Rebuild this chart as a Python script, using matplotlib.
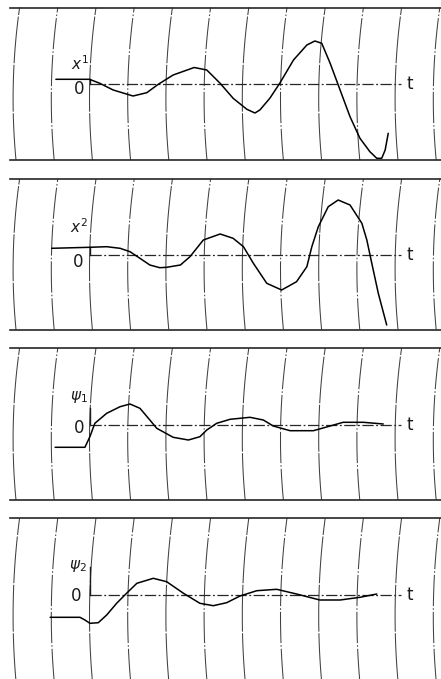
import numpy as np
import matplotlib.pyplot as plt

# time in chart divisions (t = 0 at the origin), deflection in chart units
x1_t = [-0.88, 0.0, 0.27, 0.62, 1.14, 1.50, 1.80, 2.19, 2.74, 3.07, 3.42, 3.76, 4.12, 4.33, 4.46,
        4.72, 4.98, 5.34, 5.69, 5.90, 6.08, 6.30, 6.56, 6.82, 7.08, 7.34, 7.52, 7.65, 7.74, 7.82]
x1_v = [4.7, 4.7, 0.7, -6, -12, -8.7, -0.3, 9, 16.5, 14, 0.7, -14.3, -25.3, -29, -26,
        -14.3, 0.7, 24, 39, 43, 40.7, 20.7, -6, -32.7, -54.3, -67.7, -74.3, -74.3, -66, -49.3]

x2_t = [-0.99, 0.0, 0.45, 0.80, 1.06, 1.32, 1.58, 1.84, 2.02, 2.38, 2.63, 2.98, 3.42, 3.76, 4.03,
        4.29, 4.64, 5.03, 5.42, 5.69, 5.82, 5.99, 6.25, 6.51, 6.82, 7.13, 7.26, 7.39, 7.56, 7.78]
x2_v = [6.2, 7.2, 7.8, 6.2, 2.8, -3.8, -10.5, -13.2, -12.8, -10.5, -2.2, 14.5, 20.5, 16.2, 7.8,
        -8.8, -28.8, -35.5, -27.2, -12.2, 7.8, 27.8, 47.8, 54.5, 49.5, 31.2, 14.5, -8.8, -38.8, -70.5]

psi1_t = [-0.90, -0.12, 0.01, 0.14, 0.45, 0.80, 1.06, 1.32, 1.58, 1.76, 2.19, 2.59, 2.89,
          3.07, 3.33, 3.68, 4.20, 4.55, 4.81, 5.25, 5.86, 6.30, 6.64, 7.17, 7.69]
psi1_v = [-22.3, -22.3, -11.7, 1.7, 11.7, 18.3, 21, 16.7, 5, -3.3, -12.3, -15, -11.7,
          -5, 1.7, 5.7, 7.7, 5, -1, -5.7, -5.7, -1, 2.7, 2.7, 1]

psi2_t = [-1.03, -0.25, -0.12, 0.01, 0.23, 0.45, 0.71, 0.97, 1.24, 1.67, 2.02, 2.46,
          2.89, 3.24, 3.59, 3.94, 4.38, 4.90, 5.42, 6.03, 6.56, 7.08, 7.52]
psi2_v = [-22.8, -22.8, -25.5, -28.8, -28.2, -20.5, -8.8, 1.2, 11.2, 16.2, 12.8, 1.2,
          -8.8, -11.2, -8.2, -1.5, 3.8, 5.2, 0.5, -5.5, -5.5, -2.8, 0.5]

labels = [r'$x^1$', r'$x^2$', r'$\psi_1$', r'$\psi_2$']
zeros = ['0', '0', '0', '0']
grid_t = list(range(-2, 10))

traces = [(x1_t, x1_v), (x2_t, x2_v), (psi1_t, psi1_v), (psi2_t, psi2_v)]

W, H = 441, 679
PX = 38.2      # pixels per time division
X0 = 89.5      # pixel column of t = 0

# panel layout in pixels: top border, bottom border, zero line
panels = [(7.5, 160, 84), (179, 329.5, 254.5), (348, 500, 425), (518, 681, 594.5)]
yaxis_top = [4.7, 7.5, 17, 28]
label_pos = [(-0.25, 20.7), (-0.29, 27.8), (-0.27, 28.3), (-0.31, 28.5)]
zero_pos = [(-0.27, -5), (-0.30, -7.2), (-0.27, -3.3), (-0.34, -1.5)]

fig = plt.figure(figsize=(W / 100, H / 100), dpi=100)
tl, tr = -X0 / PX, (W - X0) / PX

for i, (top, bot, zl) in enumerate(panels):
    ax = fig.add_axes([0, 1 - bot / H, 1, (bot - top) / H])
    ylo, yhi = zl - bot, zl - top
    ax.set_xlim(tl, tr)
    ax.set_ylim(ylo, yhi)
    ax.axis('off')

    # curved chart-paper lines
    a = np.linspace(ylo, yhi, 80)
    hgt = yhi - ylo
    yv = yhi - 0.6 * hgt
    off = 6.5 / (0.6 * hgt) ** 2 * (a - yv) ** 2 / PX
    for k in grid_t:
        ls = (0, (30, 2, 1.5, 2)) if k % 2 else (0, (45, 1.5))
        ax.plot(k + off, a, color='0.25', lw=0.75, linestyle=ls, clip_on=False)

    # paper borders
    ax.plot([(10 - X0) / PX, tr], [yhi, yhi], color='0.15', lw=1.2, clip_on=False)
    if i < 3:
        ax.plot([(10 - X0) / PX, tr], [ylo, ylo], color='0.15', lw=1.2, clip_on=False)

    # zero line and ordinate stub
    ax.plot([0, 8.15], [0, 0], color='0.15', lw=0.9,
            linestyle=(0, (9, 2, 1.5, 2)))
    ax.plot([0, 0], [0, yaxis_top[i]], color='0.1', lw=1.0)
    ax.text(8.38, 0, 't', fontsize=12, ha='center', va='center', color='0.1')
    ax.text(zero_pos[i][0], zero_pos[i][1], zeros[i], fontsize=12,
            ha='center', va='center', color='0.1')
    ax.text(label_pos[i][0], label_pos[i][1], labels[i], fontsize=11,
            ha='center', va='center', color='0.1')

    t, v = traces[i]
    ax.plot(t, v, color='black', lw=1.1, solid_joinstyle='round', solid_capstyle='round')

fig.savefig('out.png', dpi=100, facecolor='white')
